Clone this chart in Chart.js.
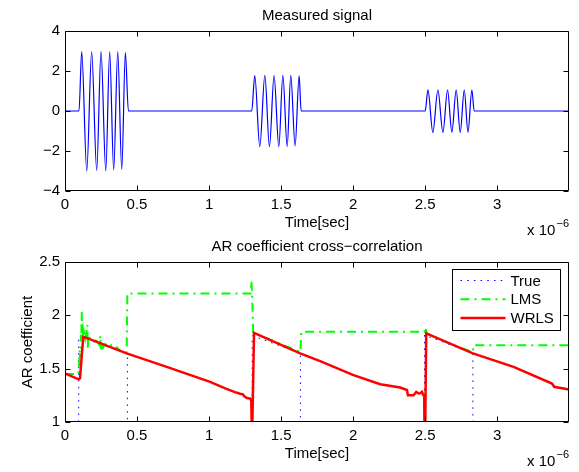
<!DOCTYPE html>
<html>
<head>
<meta charset="utf-8">
<script src="https://cdn.jsdelivr.net/npm/chart.js@4.4.1/dist/chart.umd.min.js"></script>
<style>
body { margin: 0; background: #fff; }
#wrap { position: relative; width: 579px; height: 472px; }
canvas { position: absolute; left: 0; }
</style>
</head>
<body>
<div id="wrap">
  <canvas id="sig" width="579" height="236" style="top:0"></canvas>
  <canvas id="ar" width="579" height="236" style="top:236px"></canvas>
</div>
<script>
// measured signal (time in 1e-6 s), peaks/troughs
var sigT = [0, 0.097, 0.116, 0.151, 0.185, 0.220, 0.250, 0.283, 0.310, 0.338, 0.366, 0.394, 0.419, 0.440,
  1.296, 1.317, 1.352, 1.387, 1.419, 1.451, 1.484, 1.512, 1.542, 1.567, 1.597, 1.625, 1.639,
  2.500, 2.519, 2.553, 2.588, 2.623, 2.655, 2.685, 2.715, 2.743, 2.771, 2.797, 2.824, 2.840, 3.5];
var sigV = [0, 0, 2.97, -3.0, 2.97, -2.98, 2.98, -3.0, 2.97, -2.95, 2.97, -2.92, 2.92, 0,
  0, 1.77, -1.78, 1.78, -1.78, 1.77, -1.78, 1.78, -1.77, 1.78, -1.75, 1.76, 0,
  0, 1.06, -1.07, 1.05, -1.07, 1.05, -1.06, 1.05, -1.07, 1.05, -1.06, 1.05, 0, 0];

// AR coefficient
var trueT = [0, 0.095, 0.095, 0.433, 0.433, 1.299, 1.299, 1.634, 1.634, 2.495, 2.495, 2.831, 2.831, 3.5];
var trueV = [0, 0, 1.80, 1.643, 0, 0, 1.81, 1.643, 0, 0, 1.815, 1.643, 0, 0];

var lmsT = [0, 0.093, 0.097, 0.102, 0.106, 0.110, 0.113, 0.116, 0.119, 0.123, 0.127, 0.132, 0.140, 0.150, 0.155,
  0.158, 0.162, 0.170, 0.190, 0.220, 0.240, 0.245, 0.250, 0.258, 0.265, 0.280, 0.300, 0.320, 0.340, 0.360,
  0.380, 0.410, 0.428, 0.433, 1.288, 1.294, 1.300, 1.306, 1.40, 1.50, 1.634, 1.640, 2.494, 2.500, 2.512,
  2.60, 2.70, 2.831, 2.836, 3.5];
var lmsV = [1.45, 1.45, 1.52, 1.68, 1.60, 1.82, 1.76, 2.03, 1.84, 1.87, 1.80, 1.84, 1.78, 1.86, 1.91,
  1.68, 1.82, 1.79, 1.78, 1.76, 1.72, 1.81, 1.66, 1.74, 1.70, 1.73, 1.70, 1.72, 1.68, 1.70,
  1.67, 1.66, 1.65, 2.205, 2.205, 2.32, 2.15, 1.84, 1.785, 1.73, 1.655, 1.846, 1.846, 1.89, 1.83,
  1.775, 1.72, 1.655, 1.72, 1.72];

var wrlsT = [0, 0.095, 0.104, 0.127, 0.428, 0.706, 1.007, 1.12, 1.18, 1.215, 1.235, 1.245, 1.262, 1.285,
  1.293, 1.296, 1.300, 1.312, 1.632, 1.771, 2.002, 2.188, 2.326, 2.373, 2.380, 2.398, 2.419, 2.438, 2.454,
  2.467, 2.477, 2.488, 2.493, 2.495, 2.500, 2.507, 2.831, 3.113, 3.380, 3.395, 3.498];
var wrlsV = [1.455, 1.40, 1.41, 1.80, 1.643, 1.517, 1.376, 1.31, 1.28, 1.265, 1.26, 1.24, 1.225, 1.22,
  1.20, 0.95, 0.95, 1.836, 1.643, 1.57, 1.439, 1.354, 1.323, 1.30, 1.25, 1.25, 1.25, 1.282, 1.267,
  1.27, 1.282, 1.25, 1.25, 0.95, 0.95, 1.83, 1.643, 1.517, 1.36, 1.33, 1.305];

var xTicks = [0, 0.5, 1, 1.5, 2, 2.5, 3];
var sigTicks = [-4, -2, 0, 2, 4];
var arTicks = [1, 1.5, 2, 2.5];

var FONT = '"Liberation Sans", Arial, Helvetica, sans-serif';

function pts(t, v) {
  return t.map(function (x, i) { return { x: x, y: v[i] }; });
}
function fmt(v) {
  return String(v).replace('-', '\u2212');
}

// matlab style box, inward ticks, labels and legend
var matlabBox = {
  id: 'matlab',
  afterDraw: function (chart, args, o) {
    var ctx = chart.ctx, a = chart.chartArea;
    var xs = chart.scales.x, ys = chart.scales.y;
    var L = Math.round(a.left) + 0.5, R = Math.round(a.right) - 0.5;
    var T = Math.round(a.top) + 0.5, B = Math.round(a.bottom) - 0.5;
    ctx.save();
    ctx.strokeStyle = '#000';
    ctx.lineWidth = 1;
    ctx.setLineDash([]);
    ctx.beginPath();
    ctx.rect(L, T, R - L, B - T);
    xs.ticks.forEach(function (t) {
      var px = Math.round(xs.getPixelForValue(t.value)) + 0.5;
      ctx.moveTo(px, B); ctx.lineTo(px, B - 5);
      ctx.moveTo(px, T); ctx.lineTo(px, T + 5);
    });
    ys.ticks.forEach(function (t) {
      var py = Math.round(ys.getPixelForValue(t.value)) + 0.5;
      ctx.moveTo(L, py); ctx.lineTo(L + 5, py);
      ctx.moveTo(R, py); ctx.lineTo(R - 5, py);
    });
    ctx.stroke();

    var cx = (a.left + a.right) / 2;
    ctx.fillStyle = '#000';
    ctx.font = '15px ' + FONT;
    ctx.textAlign = 'center';
    ctx.textBaseline = 'alphabetic';
    ctx.fillText(o.title, cx, a.top - 11.5);
    ctx.fillText('Time[sec]', cx, a.bottom + 36);

    // x 10^-6
    ctx.font = '11px ' + FONT;
    ctx.textAlign = 'right';
    var sup = '\u22126';
    var sw = ctx.measureText(sup).width;
    ctx.fillText(sup, a.right, a.bottom + 36);
    ctx.font = '15px ' + FONT;
    ctx.fillText('x 10', a.right - sw - 1, a.bottom + 44);

    if (o.ylabel) {
      ctx.save();
      ctx.translate(31.5, (a.top + a.bottom) / 2);
      ctx.rotate(-Math.PI / 2);
      ctx.textAlign = 'center';
      ctx.fillText(o.ylabel, 0, 0);
      ctx.restore();
    }

    if (o.legend) {
      var g = o.legend;
      ctx.fillStyle = '#fff';
      ctx.fillRect(g.x, g.y, g.w, g.h);
      ctx.strokeStyle = '#000';
      ctx.lineWidth = 1;
      ctx.strokeRect(g.x + 0.5, g.y + 0.5, g.w, g.h);
      chart.data.datasets.forEach(function (ds, i) {
        var y = g.y + 11.5 + i * 18.8;
        ctx.beginPath();
        ctx.strokeStyle = ds.borderColor;
        ctx.lineWidth = ds.borderWidth;
        ctx.setLineDash(ds.borderDash || []);
        ctx.moveTo(g.x + 8.5, y);
        ctx.lineTo(g.x + 53.5, y);
        ctx.stroke();
        ctx.setLineDash([]);
        ctx.fillStyle = '#000';
        ctx.font = '15px ' + FONT;
        ctx.textAlign = 'left';
        ctx.textBaseline = 'middle';
        ctx.fillText(ds.label, g.x + 58.5, y + 1);
      });
    }
    ctx.restore();
  }
};

function makeChart(id, datasets, yMin, yMax, yTicks, padTop, xH, plug) {
  return new Chart(document.getElementById(id), {
    type: 'line',
    data: { datasets: datasets },
    options: {
      responsive: false,
      animation: false,
      events: [],
      layout: { padding: { top: padTop, right: 10, left: 0, bottom: 0 } },
      plugins: { legend: { display: false }, tooltip: { enabled: false }, matlab: plug },
      scales: {
        x: {
          type: 'linear', min: 0, max: 3.498,
          grid: { display: false, drawTicks: false }, border: { display: false },
          afterBuildTicks: function (s) { s.ticks = xTicks.map(function (v) { return { value: v }; }); },
          afterFit: function (s) { s.height = xH; },
          ticks: { color: '#000', font: { family: FONT, size: 15 }, padding: 5, maxRotation: 0, autoSkip: false,
            callback: function (v) { return fmt(v); } }
        },
        y: {
          type: 'linear', min: yMin, max: yMax,
          grid: { display: false, drawTicks: false }, border: { display: false },
          afterBuildTicks: function (s) { s.ticks = yTicks.map(function (v) { return { value: v }; }); },
          afterFit: function (s) { s.width = 65; },
          ticks: { color: '#000', font: { family: FONT, size: 15 }, padding: 5, autoSkip: false,
            callback: function (v) { return fmt(v); } }
        }
      }
    },
    plugins: [matlabBox]
  });
}

makeChart('sig', [{
  label: 'signal',
  data: pts(sigT, sigV),
  borderColor: '#0000ff', borderWidth: 1.2,
  pointRadius: 0, cubicInterpolationMode: 'monotone', clip: 0
}], -4, 4, sigTicks, 31, 45, { title: 'Measured signal' });

makeChart('ar', [{
  label: 'True', data: pts(trueT, trueV), order: 3,
  borderColor: '#0000ff', borderWidth: 1, borderDash: [1.5, 5.2],
  pointRadius: 0, tension: 0, clip: 0
}, {
  label: 'LMS', data: pts(lmsT, lmsV), order: 2,
  borderColor: '#00ff00', borderWidth: 2, borderDash: [9, 5, 2, 5],
  pointRadius: 0, tension: 0, clip: 0
}, {
  label: 'WRLS', data: pts(wrlsT, wrlsV), order: 1,
  borderColor: '#ff0000', borderWidth: 2.5,
  pointRadius: 0, tension: 0, clip: 0
}], 1, 2.5, arTicks, 26, 50, {
  title: 'AR coefficient cross\u2212correlation',
  ylabel: 'AR coefficient',
  legend: { x: 452, y: 33, w: 108, h: 61 }
});
</script>
</body>
</html>
